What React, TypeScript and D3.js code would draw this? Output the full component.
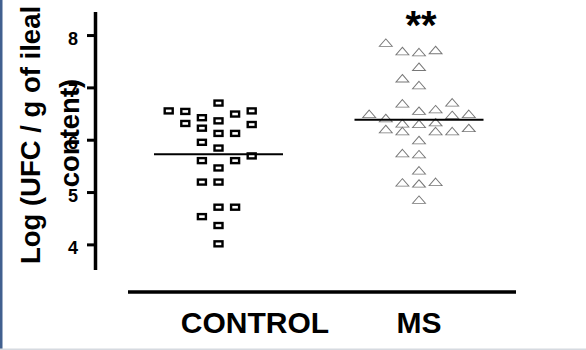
import React from "react";
import * as d3 from "d3";

const categories = ["CONTROL", "MS"];
const yTickValues = [4, 5, 6, 7, 8];

const controlValues = [6.71, 6.56, 6.55, 6.43, 6.5, 6.56, 6.32, 6.23, 6.37, 6.3, 6.13, 6.13, 5.96, 5.85, 5.7, 5.61, 5.61, 5.47, 5.2, 5.2, 4.72, 4.72, 4.54, 4.37, 4.02];
const controlSlots = [0, -3, -2, -1, 1, 2, -2, -1, 0, 2, 0, 1, -1, 0, 2, -1, 1, 0, -1, 0, 0, 1, -1, 0, 0];
const controlMean = 5.73;

const msValues = [7.84, 7.68, 7.66, 7.7, 7.38, 7.16, 7.03, 6.68, 6.7, 6.54, 6.57, 6.48, 6.4, 6.46, 6.48, 6.3, 6.29, 6.32, 6.19, 6.15, 6.15, 6.15, 6.21, 5.98, 5.73, 5.71, 5.4, 5.17, 5.15, 5.18, 4.84];
const msSlots = [-2, -1, 0, 1, 0, -1, 0, -1, 2, 0, 1, -3, -2, 2, 3, -1, 0, 1, -2, -1, 1, 2, 3, 0, -1, 0, 0, -1, 0, 1, 0];
const msMean = 6.39;

const significance = "**";
const yTitleLines = ["Log (UFC / g of ileal", "content)"];

const W = 586;
const H = 350;
const FONT = "'Liberation Sans', Arial, sans-serif";

export default function App() {
  const y = d3.scaleLinear().domain([3.52, 8.45]).range([270, 12]);
  const x = d3.scalePoint<string>().domain(categories).range([218.5, 419]);
  const slot = d3.scaleLinear().domain([0, 1]).range([0, 16.6]);
  const ticks = y.ticks(5).filter((t) => yTickValues.includes(t));
  const cx = x("CONTROL")!;
  const mx = x("MS")!;
  const meanHalf = 64.5;
  const tri = d3.symbol().type(d3.symbolTriangle).size(40);

  return (
    <svg
      width={W}
      height={H}
      style={{ position: "fixed", left: 0, top: 0, background: "#fff", fontFamily: FONT }}
    >
      <rect x={0} y={0} width={W} height={H} fill="#fff" />
      <rect x={0} y={0} width={2.5} height={H} fill="#41608f" />
      <rect x={0} y={348.5} width={W} height={1.5} fill="#d6dae0" />

      {/* y axis */}
      <line x1={95.5} x2={95.5} y1={y(8.45)} y2={y(3.52)} stroke="#000" strokeWidth={3.5} />
      {ticks.map((t) => (
        <g key={t}>
          <line x1={87} x2={95.5} y1={y(t)} y2={y(t)} stroke="#000" strokeWidth={3} />
          <text
            x={78}
            y={y(t) + 3}
            textAnchor="end"
            dominantBaseline="central"
            fontSize={18}
            fontWeight="bold"
            fill="#000"
          >
            {t}
          </text>
        </g>
      ))}

      {/* y title */}
      <text
        transform={`translate(40,135) rotate(-90)`}
        textAnchor="middle"
        fontSize={27.5}
        fontWeight="bold"
        fill="#000"
      >
        {yTitleLines[0]}
      </text>
      <text
        transform={`translate(79,133) rotate(-90)`}
        textAnchor="middle"
        fontSize={27.5}
        fontWeight="bold"
        fill="#000"
      >
        {yTitleLines[1]}
      </text>

      {/* x axis */}
      <line x1={128} x2={516} y1={292} y2={292} stroke="#000" strokeWidth={3.5} />
      <text x={cx + 36.5} y={333} textAnchor="middle" fontSize={30} fontWeight="bold" fill="#000">
        {categories[0]}
      </text>
      <text x={mx} y={333} textAnchor="middle" fontSize={30} fontWeight="bold" fill="#000">
        {categories[1]}
      </text>

      {/* control squares */}
      {controlValues.map((v, i) => (
        <rect
          key={"c" + i}
          x={cx + slot(controlSlots[i]) - 4}
          y={y(v) - 2.5}
          width={8}
          height={5}
          fill="#fff"
          stroke="#000"
          strokeWidth={2.4}
        />
      ))}
      <line x1={cx - meanHalf} x2={cx + meanHalf} y1={y(controlMean)} y2={y(controlMean)} stroke="#000" strokeWidth={2} />

      {/* MS triangles */}
      {msValues.map((v, i) => (
        <path
          key={"m" + i}
          d={tri()!}
          transform={`translate(${mx + slot(msSlots[i])},${y(v)}) scale(1.35,0.9)`}
          fill="#fff"
          stroke="#777"
          strokeWidth={0.85}
        />
      ))}
      <line x1={mx - meanHalf} x2={mx + meanHalf} y1={y(msMean)} y2={y(msMean)} stroke="#000" strokeWidth={2} />

      <text x={421} y={39} textAnchor="middle" fontSize={40} fontWeight="bold" fill="#000">
        {significance}
      </text>
    </svg>
  );
}
